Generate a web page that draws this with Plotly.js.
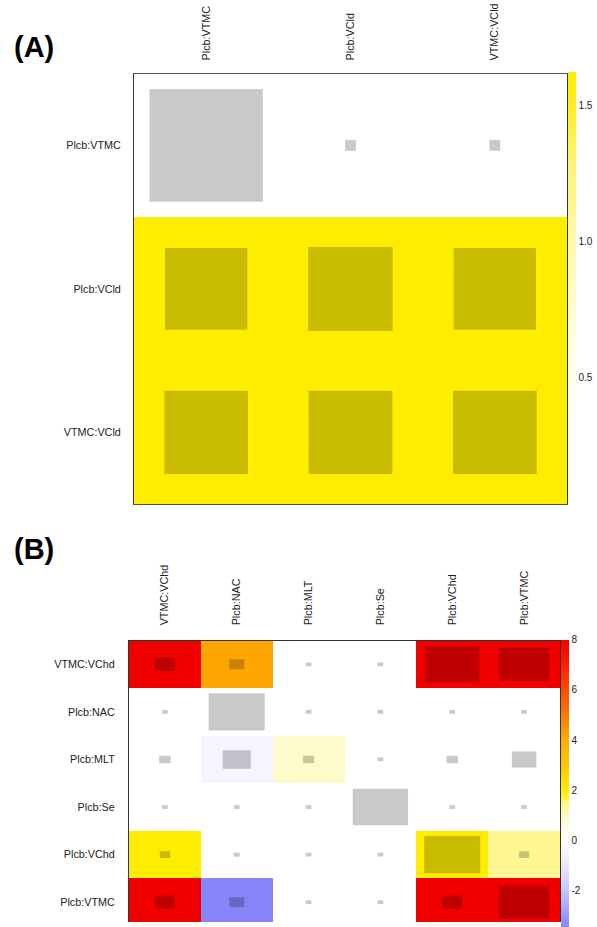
<!DOCTYPE html>
<html>
<head>
<meta charset="utf-8">
<script src="https://cdn.plot.ly/plotly-3.0.1.min.js"></script>
<style>
  html, body { margin: 0; padding: 0; background: #fff; }
  #chart { width: 597px; height: 927px; }
</style>
</head>
<body>
<div id="chart"></div>
<script>
// Panel (A): three interaction terms
const termsA = ["Plcb:VTMC", "Plcb:VCld", "VTMC:VCld"];
// cell fill value (colour scale)
const fillA = [
  [0.03, 0.03, 0.03],
  [1.62, 1.62, 1.62],
  [1.62, 1.62, 1.62]
];
// relative size of the inner square in each cell
const boxA = [
  [0.785, 0.075, 0.075],
  [0.57, 0.585, 0.57],
  [0.58, 0.58, 0.58]
];
const ticksA = [0.5, 1.0, 1.5];
const tickTextA = ["0.5", "1.0", "1.5"];

// Panel (B): six interaction terms
const termsB = ["VTMC:VChd", "Plcb:NAC", "Plcb:MLT", "Plcb:Se", "Plcb:VChd", "Plcb:VTMC"];
const fillB = [
  [8.0, 4.2, 0, 0, 8.0, 8.0],
  [0, 0, 0, 0, 0, 0],
  [0, -0.45, 0.85, 0, 0, 0],
  [0, 0, 0, 0, 0, 0],
  [2.0, 0, 0, 0, 2.0, 1.4],
  [8.0, -3.43, 0, 0, 8.0, 8.0]
];
const boxB = [
  [0.28, 0.21, 0.08, 0.08, 0.75, 0.70],
  [0.08, 0.78, 0.08, 0.08, 0.08, 0.08],
  [0.16, 0.39, 0.155, 0.08, 0.16, 0.34],
  [0.08, 0.08, 0.08, 0.77, 0.08, 0.08],
  [0.145, 0.085, 0.08, 0.08, 0.78, 0.14],
  [0.28, 0.21, 0.08, 0.08, 0.28, 0.70]
];
const ticksB = [-2, 0, 2, 4, 6, 8];
const tickTextB = ["-2", "0", "2", "4", "6", "8"];

const W = 597, H = 927;
const FONT = "Liberation Sans, Arial, sans-serif";
const px = v => v / W;
const py = v => 1 - v / H;
const idx = arr => arr.map((_, i) => i);

// colour scales
const scaleA = [
  [0, "#FFFFFF"], [0.3, "#FFFEF2"], [0.6, "#FFF8B4"],
  [0.8, "#FFF270"], [0.92, "#FFEE22"], [1, "#FFED00"]
];
const zMinB = Math.min(...fillB.flat()), zMaxB = Math.max(...fillB.flat());
const n = v => (v - zMinB) / (zMaxB - zMinB);
const scaleB = [
  [n(-3.43), "#8585F8"], [n(-2), "#C6C6FC"], [n(-1), "#E8E8FE"],
  [n(0), "#FFFFFF"], [n(0.5), "#FFFDE6"], [n(1), "#FFF9C0"],
  [n(1.5), "#FFF685"], [n(1.8), "#FFEE22"], [n(2), "#FFED00"],
  [n(3), "#FFC800"], [n(4.2), "#FFA500"], [n(5), "#FF7A00"],
  [n(6), "#FF4A00"], [n(7), "#FF2000"], [n(8), "#F20000"]
];

const cbFont = { family: FONT, size: 10, color: "#222" };

const traces = [
  {
    type: "heatmap", x: idx(termsA), y: idx(termsA), z: fillA,
    xaxis: "x", yaxis: "y", colorscale: scaleA, hoverinfo: "skip",
    colorbar: {
      x: px(568), xanchor: "left", y: py(290.5), yanchor: "middle",
      len: 433, lenmode: "pixels", thickness: 8, thicknessmode: "pixels",
      xpad: 0, ypad: 0, outlinewidth: 0, ticks: "",
      tickvals: ticksA, ticktext: tickTextA, tickfont: cbFont
    }
  },
  {
    type: "heatmap", x: idx(termsB), y: idx(termsB), z: fillB,
    xaxis: "x2", yaxis: "y2", colorscale: scaleB, hoverinfo: "skip",
    colorbar: {
      x: px(561), xanchor: "left", y: py(787.5), yanchor: "middle",
      len: 287, lenmode: "pixels", thickness: 8, thicknessmode: "pixels",
      xpad: 0, ypad: 0, outlinewidth: 0, ticks: "",
      tickvals: ticksB, ticktext: tickTextB, tickfont: cbFont
    }
  }
];

// inner squares: semi-transparent dark overlay, sized by box value
function boxes(sizes, xr, yr) {
  const out = [];
  sizes.forEach((row, r) => row.forEach((s, c) => {
    out.push({
      type: "rect", xref: xr, yref: yr,
      x0: c - s / 2, x1: c + s / 2, y0: r - s / 2, y1: r + s / 2,
      fillcolor: "rgba(0,0,0,0.21)", line: { width: 0 }, layer: "above"
    });
  }));
  return out;
}

const tickFont = { family: FONT, size: 10.8, color: "#222" };
const rowsShownB = (H - 644) / ((931 - 644) / termsB.length);

const layout = {
  width: W, height: H,
  margin: { l: 0, r: 0, t: 0, b: 0 },
  paper_bgcolor: "#fff", plot_bgcolor: "#fff",
  showlegend: false,
  xaxis: {
    domain: [px(134), px(567)], anchor: "y", side: "top",
    range: [-0.5, termsA.length - 0.5], tickvals: idx(termsA), ticktext: termsA,
    tickangle: -90, ticks: "", ticklabelstandoff: 10, tickfont: tickFont,
    showgrid: false, zeroline: false, showline: true, mirror: true,
    linecolor: "#555", linewidth: 1, fixedrange: true
  },
  yaxis: {
    domain: [py(507), py(74)], anchor: "x",
    range: [termsA.length - 0.5, -0.5], tickvals: idx(termsA), ticktext: termsA,
    ticks: "", ticklabelstandoff: 10, tickfont: tickFont,
    showgrid: false, zeroline: false, showline: true, mirror: true,
    linecolor: "#333", linewidth: 1, fixedrange: true
  },
  xaxis2: {
    domain: [px(129), px(560)], anchor: "y2", side: "top",
    range: [-0.5, termsB.length - 0.5], tickvals: idx(termsB), ticktext: termsB,
    tickangle: -90, ticks: "", ticklabelstandoff: 12, tickfont: tickFont,
    showgrid: false, zeroline: false, showline: true, mirror: false,
    linecolor: "#333", linewidth: 1, fixedrange: true
  },
  yaxis2: {
    domain: [0, py(644)], anchor: "x2",
    range: [-0.5 + rowsShownB, -0.5], tickvals: idx(termsB), ticktext: termsB,
    ticks: "", ticklabelstandoff: 11, tickfont: tickFont,
    showgrid: false, zeroline: false, showline: true, mirror: true,
    linecolor: "#333", linewidth: 1, fixedrange: true
  },
  shapes: boxes(boxA, "x", "y").concat(boxes(boxB, "x2", "y2")),
  annotations: [
    { text: "<b>(A)</b>", xref: "paper", yref: "paper", x: px(34), y: py(47.5),
      xanchor: "center", yanchor: "middle", showarrow: false,
      font: { family: FONT, size: 29, color: "#000" } },
    { text: "<b>(B)</b>", xref: "paper", yref: "paper", x: px(34), y: py(552),
      xanchor: "center", yanchor: "middle", showarrow: false,
      font: { family: FONT, size: 29, color: "#000" } }
  ]
};

Plotly.newPlot("chart", traces, layout, { displayModeBar: false, staticPlot: true });
</script>
</body>
</html>
